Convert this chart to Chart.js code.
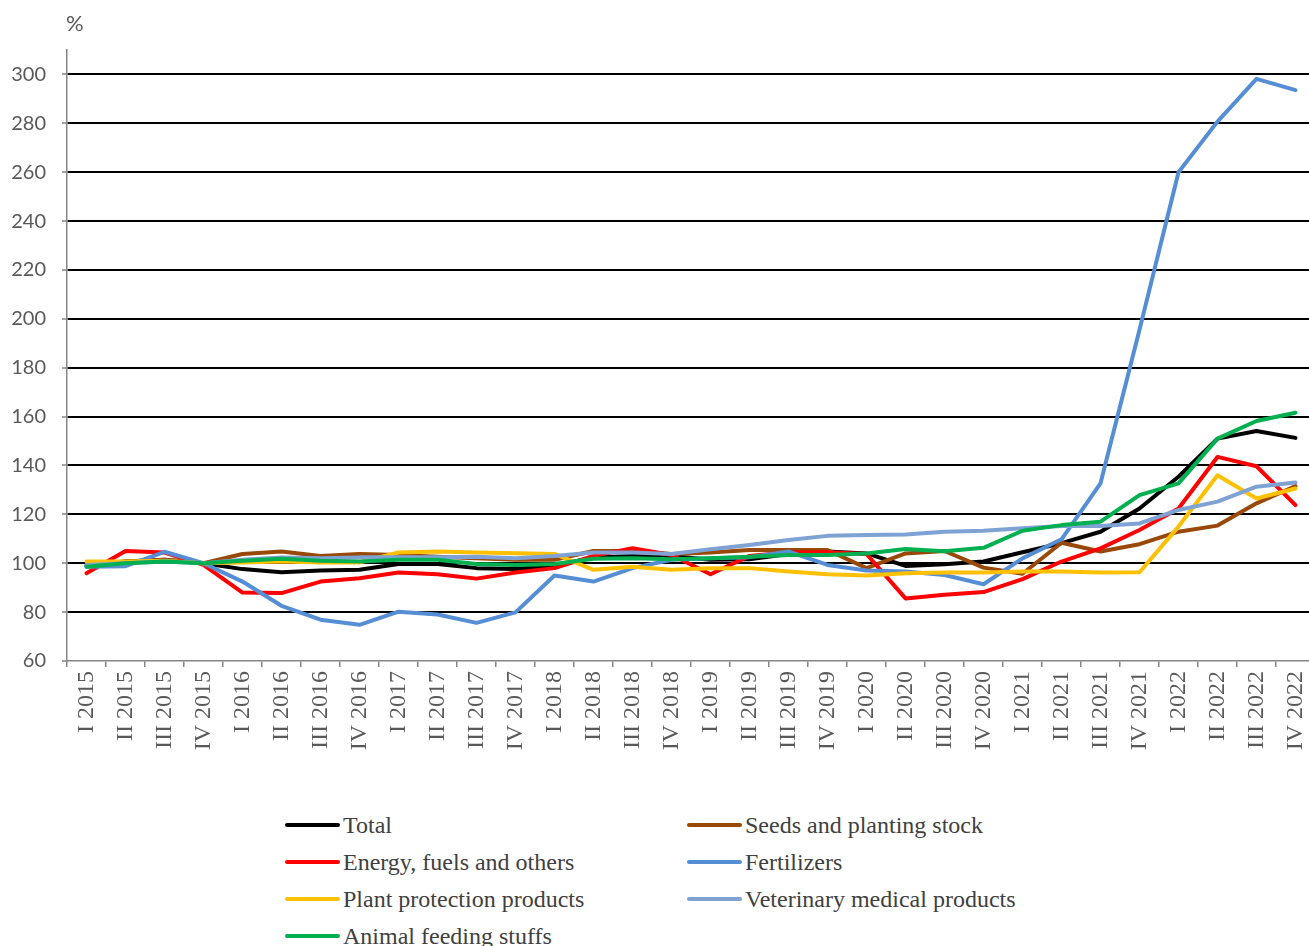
<!DOCTYPE html>
<html>
<head>
<meta charset="utf-8">
<script src="https://cdn.jsdelivr.net/npm/chart.js@4"></script>
<style>
  body { margin: 0; background: #fff; overflow: hidden; }
  #wrap { position: relative; width: 1315px; height: 946px; }
  #pct { position: absolute; left: 66px; top: 9px; font: 22px Lato, sans-serif; color: #595959; }
  .leg { position: absolute; height: 28px; display: flex; align-items: center; font: 24px "Liberation Serif", serif; color: #404040; white-space: nowrap; }
  .leg span.ln { display: inline-block; width: 55px; height: 4px; border-radius: 2px; margin-right: 3px; }
</style>
</head>
<body>
<div id="wrap">
  <canvas id="costs" width="1315" height="780"></canvas>
  <div id="pct">%</div>
  <div id="legend"></div>
</div>
<script>
let quarters = [];
["2015", "2016", "2017", "2018", "2019", "2020", "2021", "2022"].forEach((yr) => {
  ["I", "II", "III", "IV"].forEach((q) => quarters.push(q + " " + yr));
});

let yTicks = [60, 80, 100, 120, 140, 160, 180, 200, 220, 240, 260, 280, 300];

let total = [98.9, 100.7, 101.4, 100, 97.6, 96.3, 97, 97.3, 99.7, 99.7, 98, 97.6,
  98.9, 102.4, 103, 103, 101.4, 101.6, 103.8, 104.8, 104, 98.9, 99.6, 100.7,
  104.5, 108.2, 112.9, 122.4, 135.4, 151, 154.1, 151.3];
let seeds = [99.3, 100.7, 101.4, 100, 103.8, 104.8, 103, 103.8, 103.4, 102.7, 102, 101.4,
  101.4, 105, 105, 103.8, 104.4, 105.4, 105.4, 105.4, 98, 104, 105, 98.2,
  95.7, 108.4, 104.8, 107.8, 112.9, 115.4, 124.5, 131.6];
let energy = [95.9, 105, 104.4, 99.3, 88, 87.8, 92.5, 93.9, 96.2, 95.5, 93.7, 96.2,
  98, 103, 106.1, 103.4, 95.5, 103, 104.5, 104.5, 103.8, 85.6, 87.1, 88.2,
  93.5, 100.7, 106.1, 113.6, 122.4, 143.5, 139.7, 123.8];
let fertilizers = [98.6, 98.8, 104.7, 100, 92.5, 82.6, 76.9, 74.8, 80.2, 79, 75.6, 79.9,
  95, 92.5, 98, 101.4, 102, 102.5, 104.8, 99.3, 97, 96.6, 95.2, 91.4,
  102, 109.8, 132.7, 195.5, 260, 280.7, 298.2, 293.6];
let plantProtection = [100.7, 100.7, 101, 100, 100.3, 100.7, 100.3, 100.3, 104.4, 104.8, 104.4, 104.1,
  103.8, 97.3, 98.6, 97.3, 98, 98, 96.6, 95.5, 95, 95.9, 96.2, 96.2,
  96.6, 96.6, 96.2, 96.3, 115, 136, 126.5, 130.6];
let veterinary = [99.3, 100, 100.7, 100, 101.4, 102.4, 102, 102.4, 102.4, 102.4, 102.7, 102,
  103, 104.4, 104.4, 103.8, 105.7, 107.5, 109.5, 111.2, 111.6, 111.8, 112.9, 113.3,
  114.3, 115.2, 115.2, 116.3, 121.8, 125.2, 131.3, 133];
let feeding = [98.6, 100, 100.7, 100, 101, 101.8, 101, 100.7, 101.4, 101.4, 99.7, 99.3,
  99.7, 101.8, 102, 101.6, 102, 102.7, 103.4, 103.4, 104, 105.8, 104.9, 106.3,
  113.3, 115.6, 117, 127.9, 132.7, 151, 158.2, 161.6];

let seriesNames = ["Total", "Seeds and planting stock", "Energy, fuels and others", "Fertilizers",
  "Plant protection products", "Veterinary medical products", "Animal feeding stuffs"];
let seriesColors = ["#000000", "#984807", "#ff0000", "#558ed5", "#ffc000", "#7ea2d4", "#00b050"];
let seriesData = [total, seeds, energy, fertilizers, plantProtection, veterinary, feeding];

// legend laid out like the original: two columns, row by row
let legendBox = document.getElementById("legend");
seriesNames.forEach((name, i) => {
  let item = document.createElement("div");
  item.className = "leg";
  item.style.left = (i % 2 === 0 ? 285 : 687) + "px";
  item.style.top = (811 + Math.floor(i / 2) * 37) + "px";
  item.innerHTML = `<span class="ln" style="background:${seriesColors[i]}"></span>${name}`;
  legendBox.appendChild(item);
});

let axisGray = "#868686";
let labelGray = "#595959";

let costsChart = new Chart("costs", {
  type: "line",
  data: {
    labels: quarters,
    datasets: seriesData.map((values, i) => ({
      label: seriesNames[i],
      data: values,
      borderColor: seriesColors[i],
      backgroundColor: seriesColors[i],
      borderWidth: 4,
      pointRadius: 0,
      tension: 0,
      borderJoinStyle: "round",
      borderCapStyle: "round",
      order: seriesData.length - i,
    })),
  },
  options: {
    responsive: false,
    animation: false,
    layout: { padding: { top: 50, left: 0, right: 0, bottom: 0 } },
    plugins: {
      legend: { display: false },
      tooltip: { enabled: false },
    },
    scales: {
      x: {
        offset: true,
        afterFit: (scale) => {
          scale.height = 119;
          scale.paddingLeft = 0;
          scale.paddingRight = 0;
        },
        ticks: {
          autoSkip: false,
          minRotation: 90,
          maxRotation: 90,
          padding: 4,
          color: labelGray,
          font: { family: "'Liberation Serif', serif", size: 24 },
        },
        grid: {
          offset: true,
          drawOnChartArea: false,
          drawTicks: true,
          tickLength: 6,
          color: axisGray,
          lineWidth: 1.5,
        },
        border: { color: axisGray, width: 1.5 },
      },
      y: {
        min: 60,
        max: 310,
        afterFit: (scale) => {
          scale.width = 67;
        },
        afterBuildTicks: (scale) => {
          scale.ticks = yTicks.map((v) => ({ value: v }));
        },
        ticks: {
          padding: 16,
          color: labelGray,
          font: { family: "Lato, sans-serif", size: 20 },
        },
        grid: {
          color: (ctx) => (ctx.tick && ctx.tick.value === 60 ? "rgba(0,0,0,0)" : "#000000"),
          lineWidth: 2,
          tickLength: 5,
          tickColor: axisGray,
          tickWidth: 1.5,
        },
        border: { color: axisGray, width: 1.5 },
      },
    },
  },
});
</script>
</body>
</html>
